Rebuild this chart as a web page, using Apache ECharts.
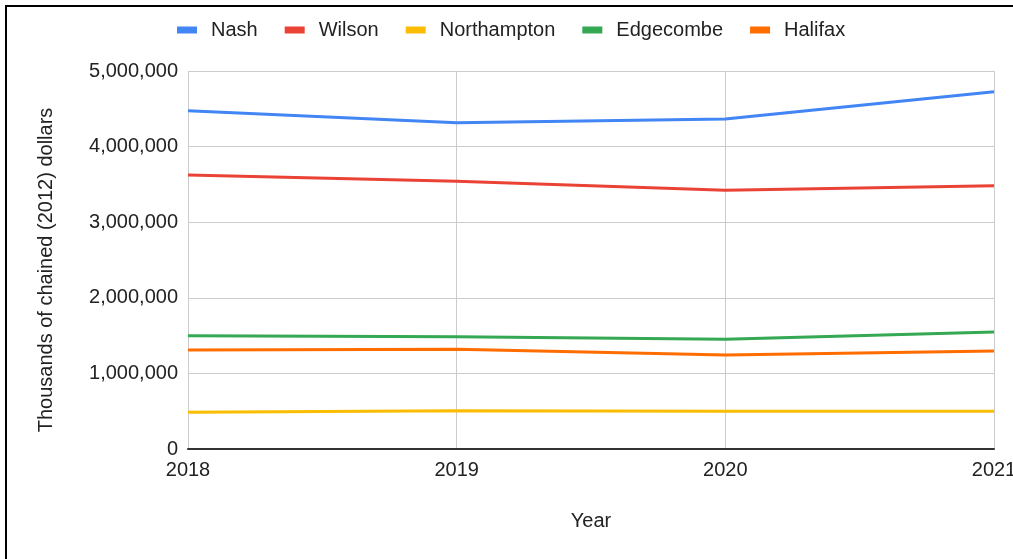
<!DOCTYPE html>
<html>
<head>
<meta charset="utf-8">
<script src="https://cdn.jsdelivr.net/npm/echarts@6/dist/echarts.min.js"></script>
<style>
  html, body { margin: 0; padding: 0; background: #fff; overflow: hidden; width: 1013px; height: 559px; }
  #wrap { position: relative; width: 1013px; height: 559px; overflow: hidden; }
  #frame { position: absolute; left: 5px; top: 5px; width: 1020px; height: 570px; border: 2px solid #000; box-sizing: border-box; }
  #chart { position: absolute; left: 0; top: 0; width: 1013px; height: 559px; }
</style>
</head>
<body>
<div id="wrap">
  <div id="frame"></div>
  <div id="chart"></div>
</div>
<script>
// Real GDP by county, thousands of chained (2012) dollars
const years = ['2018', '2019', '2020', '2021'];
const nash = [4475000, 4316000, 4365000, 4726000];
const wilson = [3624000, 3541000, 3422000, 3483000];
const northampton = [485000, 507000, 499000, 499000];
const edgecombe = [1499000, 1486000, 1451000, 1548000];
const halifax = [1310000, 1319000, 1243000, 1296000];

const seriesNames = ['Nash', 'Wilson', 'Northampton', 'Edgecombe', 'Halifax'];
const seriesData = [nash, wilson, northampton, edgecombe, halifax];
const colors = ['#4285F4', '#EA4335', '#FBBC04', '#34A853', '#FF6D01'];

const font = 'Liberation Sans, Arial, sans-serif';
const chart = echarts.init(document.getElementById('chart'));
chart.setOption({
  animation: false,
  color: colors,
  textStyle: { fontFamily: font },
  legend: {
    top: 15,
    left: 172,
    itemWidth: 20,
    itemHeight: 7,
    itemGap: 27,
    icon: 'rect',
    textStyle: { fontSize: 20, color: '#222', fontFamily: font, padding: [0, 0, 0, 9] },
    data: seriesNames
  },
  grid: { left: 188, right: 19, top: 71, bottom: 110, containLabel: false, outerBoundsMode: 'none' },
  xAxis: {
    type: 'category',
    data: years,
    boundaryGap: false,
    name: 'Year',
    nameLocation: 'middle',
    nameGap: 62,
    nameTextStyle: { fontSize: 20, color: '#222', fontFamily: font },
    axisLine: { lineStyle: { color: '#333', width: 2 } },
    axisTick: { show: false },
    axisLabel: { fontSize: 20, color: '#222', margin: 11, fontFamily: font },
    splitLine: { show: true, lineStyle: { color: '#ccc', width: 1 } }
  },
  yAxis: {
    type: 'value',
    min: 0,
    max: 5000000,
    interval: 1000000,
    name: 'Thousands of chained (2012) dollars',
    nameLocation: 'middle',
    nameGap: 132,
    nameTextStyle: { fontSize: 20, color: '#222', fontFamily: font, padding: [0, 20, 0, 0] },
    axisLine: { show: false },
    axisTick: { show: false },
    axisLabel: {
      fontSize: 20, color: '#222', margin: 10, fontFamily: font,
      formatter: v => v.toLocaleString('en-US')
    },
    splitLine: { lineStyle: { color: '#ccc', width: 1 } }
  },
  series: seriesNames.map((n, i) => ({
    name: n,
    type: 'line',
    data: seriesData[i],
    symbol: 'none',
    lineStyle: { width: 3, color: colors[i] },
    itemStyle: { color: colors[i] }
  }))
});
</script>
</body>
</html>
